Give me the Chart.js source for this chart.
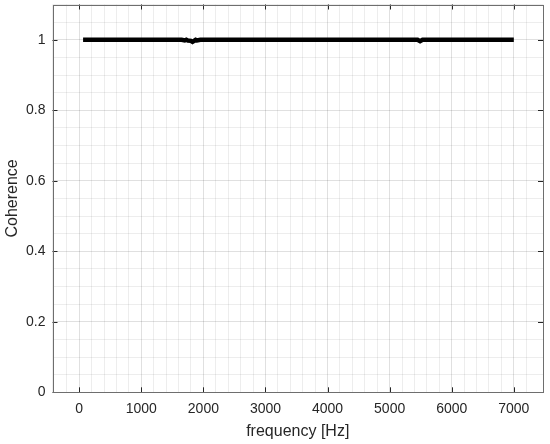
<!DOCTYPE html>
<html>
<head>
<meta charset="utf-8">
<script src="https://cdn.jsdelivr.net/npm/chart.js@4"></script>
<style>
  html, body { margin: 0; padding: 0; background: #fff; }
  #wrap { width: 550px; height: 444px; }
</style>
</head>
<body>
<div id="wrap"><canvas id="c" width="550" height="444"></canvas></div>
<script>
const frequencyHz = [62.5, 1000, 1650, 1700, 1725, 1750, 1800, 1825, 1850, 1875, 1900, 1950, 2000, 3000, 4000, 5000, 5450, 5490, 5530, 6000, 7000];
const coherence   = [1, 1, 1, 0.998, 1, 0.998, 0.997, 0.994, 0.997, 1, 0.998, 1, 1, 1, 1, 1, 1, 0.996, 1, 1, 1];
const xMajorTicks = [0, 1000, 2000, 3000, 4000, 5000, 6000, 7000];
const yMajorTicks = [0, 0.2, 0.4, 0.6, 0.8, 1];
const xLabel = 'frequency [Hz]';
const yLabel = 'Coherence';

const FONT = "'Liberation Sans', Arial, Helvetica, sans-serif";
const isMajor = (v, list) => list.some(m => Math.abs(m - v) < 1e-6);

const boxTicks = {
  id: 'boxTicks',
  afterDraw(chart) {
    const {ctx, chartArea: a, scales: {x, y}} = chart;
    ctx.save();
    ctx.strokeStyle = '#262626';
    ctx.lineWidth = 1;
    const L = 5;
    ctx.beginPath();
    xMajorTicks.forEach(v => {
      const px = Math.round(x.getPixelForValue(v)) + 0.5;
      ctx.moveTo(px, a.bottom); ctx.lineTo(px, a.bottom - L);
      ctx.moveTo(px, a.top); ctx.lineTo(px, a.top + L);
    });
    yMajorTicks.forEach(v => {
      const py = Math.round(y.getPixelForValue(v)) + 0.5;
      ctx.moveTo(a.left, py); ctx.lineTo(a.left + L, py);
      ctx.moveTo(a.right, py); ctx.lineTo(a.right - L, py);
    });
    ctx.stroke();
    ctx.strokeStyle = '#6e6e6e';
    ctx.strokeRect(Math.round(a.left) + 0.5, Math.round(a.top) + 0.5,
                   Math.round(a.right - a.left) - 1, Math.round(a.bottom - a.top) - 1);
    ctx.restore();
  }
};

new Chart(document.getElementById('c'), {
  type: 'line',
  data: {
    datasets: [{
      data: frequencyHz.map((f, i) => ({x: f, y: coherence[i]})),
      borderColor: '#000',
      borderWidth: 4.5,
      pointRadius: 0,
      tension: 0,
      fill: false
    }]
  },
  options: {
    responsive: false,
    animation: false,
    layout: { padding: { top: 4.5, right: 7, left: 0, bottom: 0 } },
    plugins: { legend: { display: false }, tooltip: { enabled: false } },
    scales: {
      x: {
        type: 'linear',
        min: -430, max: 7470,
        ticks: {
          stepSize: 200,
          autoSkip: false,
          maxRotation: 0,
          padding: 8,
          color: '#262626',
          font: { family: FONT, size: 14 },
          callback: v => isMajor(v, xMajorTicks) ? String(Math.round(v)) : ''
        },
        grid: {
          drawTicks: false,
          color: ctx => isMajor(ctx.tick.value, xMajorTicks) ? 'rgba(0,0,0,0.12)' : 'rgba(0,0,0,0.07)'
        },
        border: { display: false },
        title: { display: true, text: xLabel, color: '#262626', font: { family: FONT, size: 16 }, padding: { top: 2, bottom: 3 } },
        afterFit(s) { s.height = 51.7; s.paddingLeft = 0; s.paddingRight = 0; }
      },
      y: {
        min: 0, max: 1.1,
        ticks: {
          stepSize: 0.05,
          autoSkip: false,
          padding: 7,
          color: '#262626',
          font: { family: FONT, size: 14 },
          callback: v => isMajor(v, yMajorTicks) ? String(Math.round(v * 10) / 10) : ''
        },
        grid: {
          drawTicks: false,
          color: ctx => isMajor(ctx.tick.value, yMajorTicks) ? 'rgba(0,0,0,0.12)' : 'rgba(0,0,0,0.07)'
        },
        border: { display: false },
        title: { display: true, text: yLabel, color: '#262626', font: { family: FONT, size: 16 }, padding: { top: 3, bottom: 2 } },
        afterFit(s) { s.width = 52.5; s.paddingTop = 0; s.paddingBottom = 0; }
      }
    }
  },
  plugins: [boxTicks]
});
</script>
</body>
</html>
